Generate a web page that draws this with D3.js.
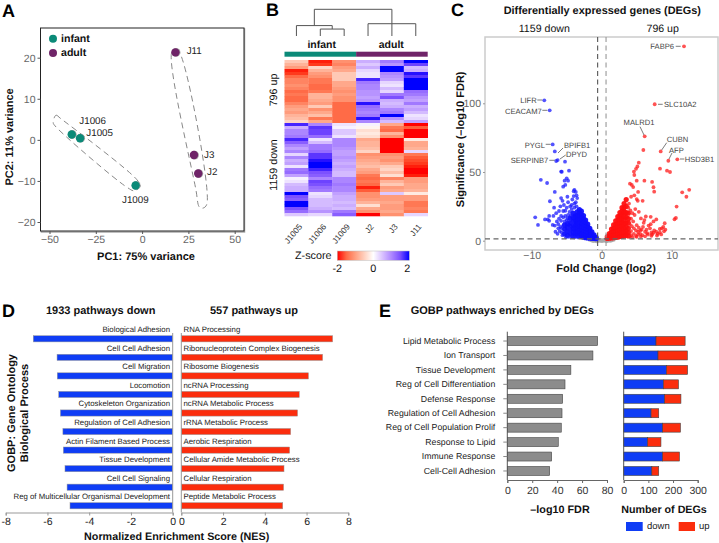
<!DOCTYPE html>
<html>
<head>
<meta charset="utf-8">
<script src="https://cdn.jsdelivr.net/npm/d3@7"></script>
<style>
  html, body { margin: 0; padding: 0; background: #fff; }
  svg { display: block; }
  text { font-family: "Liberation Sans", Arial, sans-serif; text-rendering: geometricPrecision; }
</style>
</head>
<body>
<svg id="chart" width="719" height="543"></svg>
<script>
// ---- panel A: PCA
var pcaInfant = [["J1006", -38, 1.3], ["J1005", -33.5, 0.4], ["J1009", -3.5, -11.1]];
var pcaAdult = [["J11", 18, 21.3], ["J3", 28, -3.7], ["J2", 30.3, -8.2]];
var infantHull = [[-48, 4.2], [-46.5, 6], [-44, 5.2], [-3, -9.6], [-1, -11.2], [-4, -12.4], [-8, -11.6], [-47, 3.4]];
var adultHull = [[16, 21.3], [18, 22], [20.5, 21], [35, -15.6], [33, -16.6], [31, -16.4], [29, -12]];
var pcaXTicks = [-50, -25, 0, 25, 50];
var pcaYTicks = [-20, -10, 0, 10, 20];

// ---- panel B: heatmap, one array per sample (top 21 rows up, bottom 31 rows down)
var heatSamples = ["J1005", "J1006", "J1009", "J2", "J3", "J11"];
var heatJ1005 = [-0.5,-0.7,-0.9,-1.7,-1.6,-1.3,-1.1,-1.1,-1.0,-1.1,-1.3,-1.2,-1.3,-1.3,-1.1,-0.9,-0.8,-0.9,-0.7,-0.6,-0.4,
  1.6,0.6,0.9,0.9,1.0,1.6,1.2,0.9,0.7,0.9,0.3,0.9,0.6,0.7,0.2,1.0,1.1,0.7,0.1,0.2,0.5,0.6,0.6,1.9,1.3,1.2,2.0,1.9,1.3,1.1,0.4];
var heatJ1006 = [-1.7,-1.6,-0.4,-0.7,-0.9,-1.0,-1.2,-1.2,-1.3,-1.3,-1.2,-0.7,-0.7,-0.8,-0.9,-0.5,-1.0,-0.8,-0.6,-1.2,-0.8,
  0.9,1.5,1.4,1.4,1.1,0.2,0.5,1.0,1.0,1.1,1.5,1.5,1.7,1.9,2.0,1.6,1.3,1.2,0.9,1.4,1.3,1.1,1.0,0.2,0.3,0.5,0.5,0.5,0.6,0.8,0.3];
var heatJ1009 = [-1.0,-1.1,-0.9,-0.8,-0.5,-0.5,-0.5,-0.8,-0.8,-0.9,-1.0,-0.9,-1.0,-1.0,-1.3,-1.3,-1.3,-1.3,-1.3,-1.3,-1.3,
  0.2,0.1,0.4,0.4,0.2,0.9,0.9,0.9,0.8,0.7,0.7,0.8,0.7,0.6,0.7,0.6,0.5,0.5,0.9,0.9,1.0,0.9,0.9,0.7,0.6,0.6,0.5,0.6,0.5,1.0,1.2];
var heatJ2 = [0.6,0.4,0.6,0.3,0.2,0.2,1.6,1.0,0.9,0.9,0.8,0.8,0.7,0.8,1.7,1.1,1.0,0.9,1.0,1.7,0.9,
  0.1,-0.1,-0.3,-0.2,-0.3,-0.8,-0.7,-0.7,-0.6,-0.4,-1.0,-0.9,-0.8,-0.7,-0.6,-0.8,-0.9,-1.2,-1.3,-1.2,-1.3,-1.7,-1.4,-1.0,-1.0,-0.9,-0.7,-0.3,-0.8,-1.0,-1.8];
var heatJ3 = [1.0,0.8,1.8,1.9,0.9,0.8,0.7,0.3,0.2,0.5,0.3,1.0,1.3,0.6,0.5,0.6,0.9,1.0,1.9,0.8,0.5,
  -0.8,-1.2,-1.3,-0.7,-1.0,-1.9,-1.8,-1.8,-1.9,-1.9,-1.0,-0.9,-1.0,-0.8,-0.5,-0.4,-0.6,-0.3,-1.1,-0.7,-0.5,-0.9,-0.8,0.4,-0.9,-0.9,-0.8,-0.9,-0.9,-0.8,-1.0];
var heatJ11 = [1.9,1.4,0.5,0.6,1.7,1.5,1.8,1.9,1.9,1.9,1.1,1.0,0.8,0.7,1.0,0.6,0.7,0.5,0.2,0.3,0.7,
  -1.9,-1.4,-1.9,-2.0,-2.0,-0.2,-0.8,-0.8,-0.7,0.3,-1.2,-1.4,-1.5,-1.6,-1.7,-1.9,-1.9,-1.7,-0.9,-0.9,-0.8,-0.8,-0.7,-0.2,-0.9,-0.9,-1.2,-1.2,-1.1,-1.2,0.3];
var heatColumns = [heatJ1005, heatJ1006, heatJ1009, heatJ2, heatJ3, heatJ11];
var zTicks = [-2, 0, 2];

// ---- panel C: volcano, [log2 fold change, -log10 FDR]
var volcanoGrey = [[-1.7,0.9],[-1.4,0.4],[-1.1,0.8],[-0.9,0.2],[-0.6,0.6],[-0.4,0.1],[-0.2,0.3],[0,0],[0.2,0.2],[0.4,0.5],[0.6,0.1],[0.9,0.3],[1.1,0.7],[1.4,0.4],[1.7,0.9],[-1.2,0],[-0.7,-0.3],[0.7,-0.3],[1.2,0.1]];
var volcanoDownCore = [[-0.8,1.5],[-0.8,2.5],[-1.1,1.6],[-1.1,3],[-1.1,4.2],[-1.4,1.7],[-1.4,3.2],[-1.4,5],[-1.4,6.5],
  [-1.7,1.8],[-1.7,3.6],[-1.7,5.5],[-1.7,7.5],[-1.7,9],[-2,2],[-2,4],[-2,6],[-2,8],[-2,10],[-2,12],
  [-2.3,2.2],[-2.3,4.2],[-2.3,6.4],[-2.3,8.6],[-2.3,10.8],[-2.3,13],[-2.3,15],
  [-2.6,2.5],[-2.6,4.5],[-2.6,6.8],[-2.6,9],[-2.6,11.2],[-2.6,13.6],[-2.6,16],[-2.6,18.3],
  [-2.9,3],[-2.9,5],[-2.9,7.2],[-2.9,9.6],[-2.9,12],[-2.9,14.4],[-2.9,16.8],[-2.9,19],[-2.9,21.5],
  [-3.2,3.5],[-3.2,5.6],[-3.2,8],[-3.2,10.4],[-3.2,12.8],[-3.2,15.2],[-3.2,17.6],[-3.2,20],[-3.2,22.6],
  [-3.5,4],[-3.5,6.5],[-3.5,9],[-3.5,11],[-3.5,13.5],[-3.5,16],[-3.5,18.5],[-3.5,21],
  [-3.8,4],[-3.8,7],[-3.8,10],[-3.8,12.5],[-3.8,15],[-3.8,18],[-4.1,3.5],[-4.1,6.5],[-4.1,9],[-4.1,11.5],[-4.1,14],[-4.1,17],[-4.1,20],
  [-4.5,5],[-4.5,8],[-4.5,10.5],[-4.5,13],[-4.5,16.5],[-4.9,4],[-4.9,7],[-4.9,10],[-4.9,12.5],[-5.3,5],[-5.3,8.5],[-5.3,11.5]];
var volcanoDownScatter = [[-8.2,102.2],[-7.43,94.9],[-7,70.1],[-6.7,65],[-6.29,58.7],[-6.5,58],[-5.24,57.5],
  [-5.8,50.3],[-5.7,50.2],[-4.67,51],[-8.7,44.3],[-7.8,42],[-5,45.4],[-5.3,43.7],[-4.8,43.7],[-5.2,40.6],[-5.5,39.3],[-6.7,35.5],
  [-3.9,37],[-3.7,35.5],[-4,36],[-4,32.5],[-3.6,33],[-3.5,31],[-4.2,30],[-5.8,31],[-7.4,28.7],[-5.6,29],[-4.3,26],[-4.9,32],[-3.7,28],
  [-6.8,24],[-6.1,21.6],[-5.5,21.6],[-5.2,21.8],[-5.8,18],[-5.2,18],[-4.8,18.7],[-7.5,18],[-9.5,17],[-7.7,15.5],[-8.1,15.5],[-7.5,14.5],
  [-9.1,11.5],[-6.7,11],[-6.2,12],[-5.8,14.5],[-4.3,23],[-3.9,24],[-4.6,21],[-5.9,10],[-6.4,14],[-6.6,6.5],[-6,7],[-5.6,4],[-5.7,9],[-5,15],[-4.7,2.8],[-5.1,2.5],[-6.1,16],[-7,11.5],
  [-3.9,27],[-4.5,25],[-5,24],[-3.6,25],[-4.8,28],[-5.4,26],[-5.9,25],[-6.5,20],[-6.9,18],[-6.2,9],[-5.7,6],[-6.3,5],[-5.3,14],[-5.5,17],[-4.7,14.5],[-4.4,18.5],[-4.9,16.5],[-5.1,6.5],[-4.3,2.6],[-3.9,2.4],[-3.4,2.4],[-4.7,9],[-4.2,13],[-4.6,6.5],[-5.5,11]];
var volcanoUpCore = [[0.8,1.6],[0.8,3],[1.1,1.8],[1.1,3.6],[1.1,5.2],[1.4,2],[1.4,4],[1.4,6],[1.4,8.5],[1.7,2.2],[1.7,4.4],[1.7,6.8],[1.7,9],[1.7,11.5],
  [2,2.4],[2,4.6],[2,7],[2,9.5],[2,12],[2,14.5],[2.3,2.6],[2.3,5],[2.3,7.5],[2.3,10],[2.3,12.5],[2.3,15],[2.3,17.5],
  [2.6,3],[2.6,5.5],[2.6,8],[2.6,10.5],[2.6,13],[2.6,15.5],[2.6,18],[2.6,20.5],
  [2.9,3.3],[2.9,6],[2.9,8.5],[2.9,11],[2.9,13.5],[2.9,16],[2.9,19],[2.9,21.5],[2.9,24],
  [3.2,3.5],[3.2,6],[3.2,9],[3.2,12],[3.2,15],[3.2,18],[3.2,21],[3.2,24],[3.2,27],
  [3.5,4],[3.5,7],[3.5,10],[3.5,13],[3.5,17],[3.5,20.5],[3.5,25],[3.5,30],[3.8,3.5],[3.8,6],[3.8,9],[3.8,13],[3.8,16],[3.8,20]];
var volcanoUpScatter = [[11.76,141.5],[7.57,99.3],[6.14,76],[5.95,66],[8.43,65],[9.52,58.2],[10.8,59.2],[8.33,52.4],[9.33,51],[9.76,50],
  [5.3,56.8],[5.1,54],[4.9,52.3],[4.6,50.3],[4.66,47.8],[4.04,41.5],[4.3,40.6],[4.5,39],[5,43.7],[6.1,43.7],[7.2,42.8],[7.4,38.9],[7.5,35.7],
  [5.2,35.5],[4.2,32],[4.66,33],[5,30.3],[5.15,29],[5.85,29],[11.5,35.2],[12.5,37],[12.1,32],[10.7,24.8],[10.6,16.6],[10.4,15.6],[9,12.7],
  [6.3,17.6],[7,17.4],[7.8,15.5],[5.6,16.2],[4.7,18.7],[7.4,14],[7,12],[3.8,24],[7.1,6],[7.4,5.7],[7.8,6.5],[8.6,9],[8.8,10],[8.3,8.5],[6.2,6.5],[5.5,7.5],[5,11.3],
  [4.2,4],[4.2,7],[4.3,10.5],[4.5,14],[4.4,20],[4.6,5],[4.9,3.5],[4.9,7.5],[5.2,4.6],[5.3,9.5],[5.5,5],[5.8,4],[5.9,10],[6,13],[6.4,8],[6.6,4.5],[6.9,9],[7.2,4.5],[8,5],[8.3,6],[8.9,6.8],[9.1,8],[6.7,11],
  [4,12],[4.2,16],[3.9,27],[4.1,22],[4.6,9],[4.4,2.6],[5,2.8],[5.6,3],[6.2,3.2],[5.2,6.5],[5.7,8],[6.5,5.5],[7.5,7.5],[7.1,3.6],[7.9,3.8],[8.5,4.6],[6.1,15],[4.8,23],[5.3,21],[4,3]];
var volcanoXTicks = [-10, 0, 10];
var volcanoYTicks = [0, 50, 100];

// ---- panel D: GSEA
var nesDownNames = ["Biological Adhesion", "Cell Cell Adhesion", "Cell Migration", "Locomotion", "Cytoskeleton Organization", "Regulation of Cell Adhesion", "Actin Filament Based Process", "Tissue Development", "Cell Cell Signaling", "Reg of Multicellular Organismal Development"];
var nesDownValues = [-6.68, -5.54, -5.53, -5.46, -5.38, -5.26, -5.24, -5.16, -5.06, -4.92];
var nesUpNames = ["RNA Processing", "Ribonucleoprotein Complex Biogenesis", "Ribosome Biogenesis", "ncRNA Processing", "ncRNA Metabolic Process", "rRNA Metabolic Process", "Aerobic Respiration", "Cellular Amide Metabolic Process", "Cellular Respiration", "Peptide Metabolic Process"];
var nesUpValues = [7.25, 6.77, 6.09, 5.65, 5.57, 5.24, 5.19, 4.92, 4.9, 4.86];

// ---- panel E: pathways
var pathwayNames = ["Lipid Metabolic Process", "Ion Transport", "Tissue Development", "Reg of Cell Differentiation", "Defense Response", "Regulation of Cell Adhesion", "Reg of Cell Population Prolif", "Response to Lipid", "Immune Response", "Cell-Cell Adhesion"];
var pathwayFdr = [72.5, 68.7, 51, 46.3, 44.4, 43.9, 43.3, 40.9, 35.6, 34];
var pathwayDown = [131, 139, 173, 161, 166, 111, 158, 97, 158, 114];
var pathwayUp = [118, 119, 86, 61, 66, 31, 72, 54, 68, 28];

var teal = "#0b8a78", purple = "#6f2468", barBlue = "#0f3df5", barRed = "#fb2d0d";
var svg = d3.select("#chart");

var addText = function(str, x, y, size, opts){
  opts = opts || {};
  var t = svg.append("text")
    .attr("x", x).attr("y", y)
    .attr("font-size", size)
    .attr("font-weight", opts.bold ? "bold" : "normal")
    .attr("fill", opts.fill || "#111")
    .attr("text-anchor", opts.anchor || "start")
    .attr("dominant-baseline", "central")
    .text(str);
  if (opts.rotate) t.attr("transform", "rotate(" + opts.rotate + " " + x + " " + y + ")");
  return t;
};

var styleAxis = function(g, lineColor, textColor, size){
  g.selectAll("path").attr("stroke", lineColor);
  g.selectAll("line").attr("stroke", lineColor);
  g.selectAll("text").attr("fill", textColor).attr("font-size", size)
    .attr("font-family", '"Liberation Sans", Arial, sans-serif');
};

// panel letters
[["A", 2, 11], ["B", 266, 10], ["C", 451, 10], ["D", 2, 311], ["E", 379, 311]].forEach(function(d){
  addText(d[0], d[1], d[2], 18, {bold: true, fill: "#000"});
});

// ---------- A
var drawPca = function(){
  var x = d3.scaleLinear().domain([-50, 50]).range([49.5, 234.7]);
  var y = d3.scaleLinear().domain([-20, 20]).range([222, 57.7]);

  svg.append("rect").attr("x", 41.5).attr("y", 29).attr("width", 203).attr("height", 203)
    .attr("fill", "none").attr("stroke", "#aaa").attr("stroke-width", 1.5);
  svg.append("rect").attr("x", 40.5).attr("y", 28).attr("width", 203.5).attr("height", 203)
    .attr("fill", "#fff").attr("stroke", "#222");

  var gx = svg.append("g").attr("transform", "translate(0,231)")
    .call(d3.axisBottom(x).tickValues(pcaXTicks).tickSize(3).tickPadding(2));
  gx.select("path").remove();
  styleAxis(gx, "#555", "#666", 10.5);
  var gy = svg.append("g").attr("transform", "translate(40.5,0)")
    .call(d3.axisLeft(y).tickValues(pcaYTicks).tickSize(3).tickPadding(2));
  gy.select("path").remove();
  styleAxis(gy, "#555", "#666", 10.5);

  var hull = d3.line().x(function(d){ return x(d[0]); }).y(function(d){ return y(d[1]); })
    .curve(d3.curveCatmullRomClosed);
  [infantHull, adultHull].forEach(function(h){
    svg.append("path").attr("d", hull(h)).attr("fill", "none")
      .attr("stroke", "#888").attr("stroke-width", 1).attr("stroke-dasharray", "6,4");
  });

  var drawDots = function(rows, color){
    svg.append("g").selectAll("circle").data(rows).enter().append("circle")
      .attr("cx", function(d){ return x(d[1]) + 0.6; }).attr("cy", function(d){ return y(d[2]); })
      .attr("r", 4.4).attr("fill", "#aaa");
    svg.append("g").selectAll("circle").data(rows).enter().append("circle")
      .attr("cx", function(d){ return x(d[1]); }).attr("cy", function(d){ return y(d[2]); })
      .attr("r", 4.2).attr("fill", color);
  };
  drawDots(pcaInfant, teal);
  drawDots(pcaAdult, purple);

  var sampleSpots = {J1006: [79.3, 121.7], J1005: [86.3, 133], J1009: [122, 200], J11: [186.7, 51], J3: [204, 155], J2: [207, 172]};
  Object.keys(sampleSpots).forEach(function(k){
    addText(k, sampleSpots[k][0], sampleSpots[k][1], 9.8, {fill: "#222"});
  });

  svg.append("circle").attr("cx", 53).attr("cy", 38.7).attr("r", 4).attr("fill", teal);
  svg.append("circle").attr("cx", 53).attr("cy", 53).attr("r", 4).attr("fill", purple);
  addText("infant", 61, 39, 10.6, {bold: true});
  addText("adult", 61, 53, 10.6, {bold: true});

  addText("PC1: 75% variance", 146, 257, 11, {bold: true, anchor: "middle"});
  addText("PC2: 11% variance", 10, 137, 11, {bold: true, anchor: "middle", rotate: -90});
};

// ---------- B
var drawHeatmap = function(){
  var x = d3.scaleBand().domain(heatSamples).range([284.5, 427.7]);
  var rowCount = heatJ1005.length;
  var y = d3.scaleBand().domain(d3.range(rowCount)).range([60, 216]);
  // lab interpolation gives the violet mid blues and salmon mid reds of the original
  var color = d3.scaleLinear().domain([-2, 0, 2]).range(["#ff0000", "#ffffff", "#0000ff"])
    .interpolate(d3.interpolateLab);
  var cellColor = d3.scaleLinear().domain([-1.75, 0, 1.75]).range(["#ff0000", "#ffffff", "#0000ff"])
    .interpolate(d3.interpolateLab).clamp(true);

  heatSamples.forEach(function(name, i){
    svg.append("g").selectAll("rect").data(heatColumns[i]).enter().append("rect")
      .attr("x", x(name)).attr("width", x.bandwidth() + 0.3)
      .attr("y", function(d, r){ return y(r); }).attr("height", y.bandwidth() + 0.3)
      .attr("fill", function(d){ return cellColor(d); });
  });

  // annotation bar
  svg.append("rect").attr("x", x("J1005")).attr("y", 51.7).attr("width", x.bandwidth() * 3).attr("height", 5).attr("fill", teal);
  svg.append("rect").attr("x", x("J2")).attr("y", 51.7).attr("width", x.bandwidth() * 3).attr("height", 5).attr("fill", purple);
  addText("infant", 321.7, 44.5, 10.5, {bold: true, anchor: "middle"});
  addText("adult", 391.3, 44.5, 10.5, {bold: true, anchor: "middle"});

  // dendrogram, heights run 0 (leaf) to 1 (root)
  var h = d3.scaleLinear().domain([0, 1]).range([36, 9.3]);
  var tree = {height: 1, kids: [
    {height: 0.39, kids: ["J1005", {height: 0.26, kids: ["J1006", "J1009"]}]},
    {height: 0.46, kids: ["J2", "J3", "J11"]}
  ]};
  var dendro = svg.append("g").attr("fill", "none").attr("stroke", "#555").attr("stroke-width", 1);
  var walk = function(node){
    if (typeof node === "string") return {x: x(node) + x.bandwidth() / 2, h: 0};
    var kids = node.kids.map(walk);
    kids.forEach(function(k){
      dendro.append("line").attr("x1", k.x).attr("x2", k.x).attr("y1", h(k.h)).attr("y2", h(node.height));
    });
    var xs = kids.map(function(k){ return k.x; });
    dendro.append("line").attr("x1", d3.min(xs)).attr("x2", d3.max(xs)).attr("y1", h(node.height)).attr("y2", h(node.height));
    return {x: (d3.min(xs) + d3.max(xs)) / 2, h: node.height};
  };
  walk(tree);

  addText("796 up", 274, 90, 10.7, {anchor: "middle", rotate: -90});
  addText("1159 down", 274, 165, 10.7, {anchor: "middle", rotate: -90});

  heatSamples.forEach(function(name){
    var px = x(name) + x.bandwidth() / 2 + 4, py = 225;
    addText(name, px, py, 8.3, {anchor: "end", rotate: -50, fill: "#333"});
  });

  // legend
  var defs = svg.append("defs");
  var grad = defs.append("linearGradient").attr("id", "zGrad");
  d3.range(-2, 2.01, 0.5).forEach(function(z){
    grad.append("stop").attr("offset", ((z + 2) * 25) + "%").attr("stop-color", color(z));
  });
  var zx = d3.scaleLinear().domain([-2, 2]).range([337.3, 409.3]);
  svg.append("rect").attr("x", zx(-2)).attr("y", 251).attr("width", zx(2) - zx(-2)).attr("height", 9.3)
    .attr("fill", "url(#zGrad)").attr("stroke", "#bbb").attr("stroke-width", 0.5);
  addText("Z-score", 295, 255.7, 10.8);
  zTicks.forEach(function(z){
    addText(z, zx(z) - (z === 2 ? 2 : 0), 268.7, 10.8, {anchor: "middle"});
  });
};

// ---------- C
var drawVolcano = function(){
  var x = d3.scaleLinear().domain([-10, 10]).range([531.7, 671.7]);
  var y = d3.scaleLinear().domain([0, 100]).range([240.7, 103.3]);

  svg.append("rect").attr("x", 485).attr("y", 37).attr("width", 233).attr("height", 213)
    .attr("fill", "#fff").attr("stroke", "#ccc").attr("stroke-width", 1.5);

  var gx = svg.append("g").attr("transform", "translate(0,250)")
    .call(d3.axisBottom(x).tickValues(volcanoXTicks).tickSize(2).tickPadding(0));
  gx.select("path").remove();
  styleAxis(gx, "#999", "#666", 10.5);
  var gy = svg.append("g").attr("transform", "translate(485,0)")
    .call(d3.axisLeft(y).tickValues(volcanoYTicks).tickSize(2).tickPadding(2));
  gy.select("path").remove();
  styleAxis(gy, "#999", "#666", 10.5);

  var dots = function(rows, fill, op, r){
    svg.append("g").selectAll("circle").data(rows).enter().append("circle")
      .attr("cx", function(d){ return x(d[0]); }).attr("cy", function(d){ return y(d[1]); })
      .attr("r", r).attr("fill", fill).attr("fill-opacity", op);
  };
  dots(volcanoGrey, "#a8a8a8", 0.9, 2.2);
  dots(volcanoDownCore, "#1010ff", 0.95, 2.6);
  dots(volcanoDownScatter, "#1a1aff", 0.75, 1.9);
  dots(volcanoUpCore, "#ff1010", 0.95, 2.6);
  dots(volcanoUpScatter, "#ff1a1a", 0.75, 1.9);

  var dash = function(x1, y1, x2, y2, col){
    svg.append("line").attr("x1", x1).attr("y1", y1).attr("x2", x2).attr("y2", y2)
      .attr("stroke", col).attr("stroke-width", 1.1).attr("stroke-dasharray", "5,3.5");
  };
  dash(x(-0.58), 37, x(-0.58), 250, "#555");
  dash(x(0.62), 37, x(0.62), 250, "#999");
  dash(485, y(1.3), 718, y(1.3), "#666");

  var labels = [
    ["FABP6", 674, 46.3, "end", 675.7, 46.3, 680.7, 46.3],
    ["SLC10A2", 664, 104, "start", 658, 104.3, 662.7, 104.3],
    ["MALRD1", 639, 122.7, "middle", 640, 126.7, 644, 135],
    ["CUBN", 666.7, 139.3, "start", 666.7, 142.7, 661.7, 150],
    ["AFP", 669, 150, "start", 672, 153, 669, 159],
    ["HSD3B1", 684.7, 159.7, "start", 680, 159, 684.3, 159],
    ["LIFR", 536.7, 100.5, "end", 537.3, 100, 542.3, 100],
    ["CEACAM7", 541.7, 111, "end", 542.3, 110.3, 547.3, 110.3],
    ["PYGL", 545, 145, "end", 545.7, 144.3, 550.7, 144.3],
    ["BPIFB1", 564, 145.5, "start", 563, 148, 558, 153],
    ["DPYD", 566, 154, "start", 565.7, 155, 560, 159],
    ["SERPINB7", 548.3, 160, "end", 549.3, 160.3, 554.7, 160.3]
  ];
  labels.forEach(function(d){
    svg.append("line").attr("x1", d[4]).attr("y1", d[5]).attr("x2", d[6]).attr("y2", d[7])
      .attr("stroke", "#444").attr("stroke-width", 0.7);
    addText(d[0], d[1], d[2], 7.6, {anchor: d[3], fill: "#444"});
  });

  addText("Differentially expressed genes (DEGs)", 602.3, 11, 10.9, {bold: true, anchor: "middle"});
  addText("1159 down", 544.3, 29.3, 10.6, {anchor: "middle"});
  addText("796 up", 662.7, 29.3, 10.6, {anchor: "middle"});
  addText("Fold Change (log2)", 606, 268.5, 11, {bold: true, anchor: "middle"});
  addText("Significance (\u2013log10 FDR)", 460.7, 139.3, 11, {bold: true, anchor: "middle", rotate: -90});
};

// ---------- D
var drawNes = function(){
  var xDown = d3.scaleLinear().domain([-8, 0]).range([5.7, 172.7]);
  var xUp = d3.scaleLinear().domain([0, 8]).range([181.3, 348.3]);
  var band = d3.scaleBand().domain(d3.range(10)).range([331.5, 517]);

  var side = function(names, values, scale, color, labelX, anchor){
    svg.append("g").selectAll("rect").data(values).enter().append("rect")
      .attr("x", function(d){ return Math.min(scale(d), scale(0)); })
      .attr("width", function(d){ return Math.abs(scale(d) - scale(0)); })
      .attr("y", function(d, i){ return band(i) + 4.2; })
      .attr("height", 6.2)
      .attr("fill", color).attr("stroke", "#999").attr("stroke-width", 0.5);
    names.forEach(function(n, i){
      addText(n, labelX, band(i) - 1.8, 7.8, {anchor: anchor, fill: "#222"});
    });
    var g = svg.append("g").attr("transform", "translate(0,512.5)")
      .call(d3.axisBottom(scale).ticks(4).tickSize(3).tickPadding(2).tickFormat(function(v){ return String(v); }));
    styleAxis(g, "#999", "#222", 10.5);
    g.select("path").attr("stroke-width", 1);
    svg.append("line").attr("x1", scale(0)).attr("x2", scale(0)).attr("y1", 333).attr("y2", 512.5)
      .attr("stroke", "#999");
  };
  side(nesDownNames, nesDownValues, xDown, barBlue, 170, "end");
  side(nesUpNames, nesUpValues, xUp, barRed, 183.5, "start");

  addText("1933 pathways down", 100.7, 310.7, 11, {bold: true, anchor: "middle"});
  addText("557 pathways up", 254, 310.7, 11, {bold: true, anchor: "middle"});
  addText("Normalized Enrichment Score (NES)", 176.7, 536.7, 10.75, {bold: true, anchor: "middle"});
  addText("GOBP: Gene Ontology", 11.7, 413, 11, {bold: true, anchor: "middle", rotate: -90});
  addText("Biological Process", 25, 413, 11, {bold: true, anchor: "middle", rotate: -90});
};

// ---------- E
var drawPathways = function(){
  var y = d3.scaleBand().domain(pathwayNames).range([333.8, 478.2]);
  var xFdr = d3.scaleLinear().domain([0, 80]).range([507.3, 607]);
  var xCount = d3.scaleLinear().domain([0, 300]).range([623.7, 697.7]);
  var barH = 9, off = (y.bandwidth() - barH) / 2;

  var bar = function(rows, xStart, xEnd, fill){
    svg.append("g").selectAll("rect").data(rows).enter().append("rect")
      .attr("x", xStart).attr("width", function(d, i){ return xEnd(d, i) - xStart(d, i); })
      .attr("y", function(d, i){ return y(pathwayNames[i]) + off; })
      .attr("height", barH).attr("fill", fill)
      .attr("stroke", "#444").attr("stroke-width", 0.6);
  };
  bar(pathwayFdr, function(){ return xFdr(0); }, function(d){ return xFdr(d); }, "#8c8c8c");
  bar(pathwayDown, function(){ return xCount(0); }, function(d){ return xCount(d); }, barBlue);
  bar(pathwayUp, function(d, i){ return xCount(pathwayDown[i]); }, function(d, i){ return xCount(pathwayDown[i] + d); }, barRed);

  var gl = svg.append("g").attr("transform", "translate(507.3,0)")
    .call(d3.axisLeft(y).tickSize(4).tickPadding(8));
  gl.select("path").attr("d", "M0,331.7V480");
  styleAxis(gl, "#555", "#222", 8.75);
  gl.selectAll("line").attr("stroke", "#888");

  var gb = svg.append("g").attr("transform", "translate(0,480)")
    .call(d3.axisBottom(xFdr).tickValues([0, 20, 40, 60, 80]).tickSize(3).tickPadding(4));
  styleAxis(gb, "#666", "#333", 10.5);
  var gc = svg.append("g").attr("transform", "translate(0,480)")
    .call(d3.axisBottom(xCount).tickValues([0, 100, 200, 300]).tickSize(3).tickPadding(4));
  styleAxis(gc, "#666", "#333", 10.5);
  svg.append("line").attr("x1", xCount(0)).attr("x2", xCount(0)).attr("y1", 331.7).attr("y2", 480).attr("stroke", "#555");

  addText("GOBP pathways enriched by DEGs", 410.7, 310.7, 11, {bold: true});
  addText("\u2013log10 FDR", 560, 510, 10.8, {bold: true, anchor: "middle"});
  addText("Number of DEGs", 664, 510, 10.7, {bold: true, anchor: "middle"});

  svg.append("rect").attr("x", 626).attr("y", 522).attr("width", 16.7).attr("height", 9).attr("fill", barBlue);
  addText("down", 647, 526.5, 9.5, {fill: "#222"});
  svg.append("rect").attr("x", 678.7).attr("y", 522).attr("width", 16.3).attr("height", 9).attr("fill", barRed);
  addText("up", 699, 526.5, 9.5, {fill: "#222"});
};

drawPca();
drawHeatmap();
drawVolcano();
drawNes();
drawPathways();
</script>
</body>
</html>
